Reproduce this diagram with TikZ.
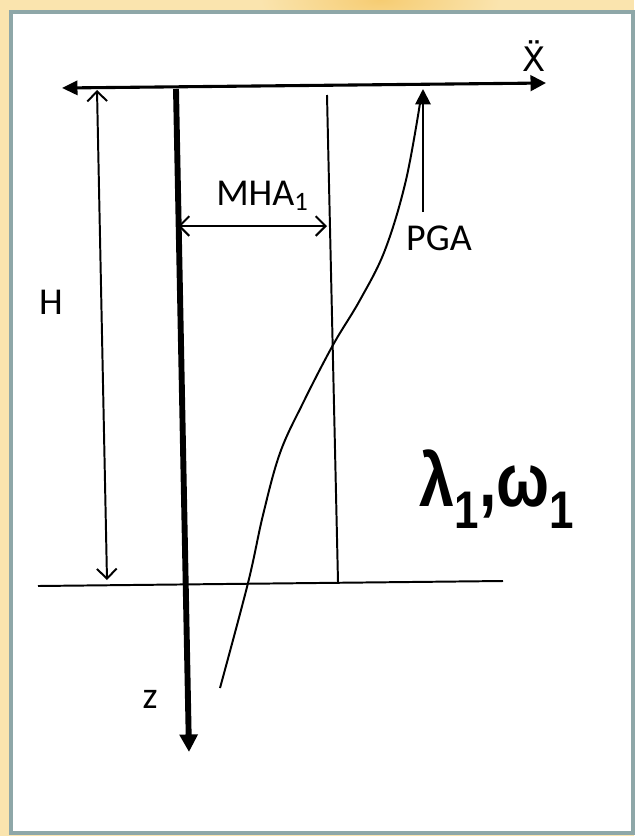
\documentclass[tikz,border=0pt]{standalone}
\usepackage{fontspec}
\setmainfont{Carlito}
\newfontfamily\arialfont{Liberation Sans}
\newfontfamily\dejavufont{DejaVu Sans}
\usetikzlibrary{arrows.meta}
\definecolor{bgyellow}{HTML}{FAE4AE}
\definecolor{bgorange}{HTML}{F6CC72}
\definecolor{framegray}{HTML}{8EA7A8}

\begin{document}
\begin{tikzpicture}[x=0.025cm, y=-0.025cm,
    lbl/.style={font=\fontsize{27}{32}\selectfont, inner sep=0pt},
    thinline/.style={line width=1.4pt},
    fulltip/.style={-{Triangle[length=11pt,width=11pt]}},
    barbs/.style={{Straight Barb[length=7pt,width=14pt]}-{Straight Barb[length=7pt,width=14pt]}}]
    \useasboundingbox (0,0) rectangle (634,836);

    % Background and frame
    \fill[bgyellow] (0,0) rectangle (634,836);
    \shade[inner color=bgorange, outer color=bgyellow] (380,0) ellipse (120 and 40);
    \draw[framegray, line width=3.2pt, fill=white] (11,12) rectangle (633,833);

    % Points of the sketch
    \coordinate (axL) at (62,88);
    \coordinate (axR) at (546,83);
    \coordinate (zTop) at (176,89);
    \coordinate (zEnd) at (189,752);
    \coordinate (hTop) at (97,90);
    \coordinate (hBot) at (107,580);
    \coordinate (baseL) at (38,586);
    \coordinate (baseR) at (503,581);
    \coordinate (mhaTop) at (327,95);
    \coordinate (mhaBot) at (338,582);
    \coordinate (mhaL) at (178,226);
    \coordinate (mhaR) at (327,226);
    \coordinate (pgaBot) at (423,212);
    \coordinate (pgaTip) at (423,89);

    % Axes
    \draw[line width=2.2pt, {Triangle[length=11pt,width=10pt]}-{Triangle[length=11pt,width=11pt]}] (axL) -- (axR);
    \draw[line width=4.2pt, -{Triangle[length=12.5pt,width=12.5pt]}] (zTop) -- (zEnd);

    % Depth, base and amplitudes
    \draw[thinline, barbs] (hTop) -- (hBot);
    \draw[thinline] (baseL) -- (baseR);
    \draw[thinline] (mhaTop) -- (mhaBot);
    \draw[thinline, barbs] (mhaL) -- (mhaR);
    \draw[thinline, fulltip] (pgaBot) -- (pgaTip);

    % Acceleration profile
    \draw[thinline] plot[smooth, tension=0.6] coordinates {(220,688) (248,583) (263,515)
        (280,453) (303,403) (333,345) (360,300) (385,250) (406,180) (421,97)};

    % Labels
    \node[lbl, font=\dejavufont\fontsize{24}{28}\selectfont] (xddLbl) at (534,56) {Ẍ};
    \node[lbl] (hLbl) at (51,302) {H};
    \node[lbl, anchor=base west] (mhaLbl) at (216,205) {MHA\textsubscript{1}};
    \node[lbl] (pgaLbl) at (439,238) {PGA};
    \node[lbl] (zLbl) at (150,699) {z};
    \node[inner sep=0pt, font=\arialfont\bfseries\fontsize{48}{56}\selectfont, anchor=base west] (modeLbl)
        at (419,506) {\scalebox{0.93}[1.12]{λ\textsubscript{1},ω\textsubscript{1}}};
\end{tikzpicture}
\end{document}
